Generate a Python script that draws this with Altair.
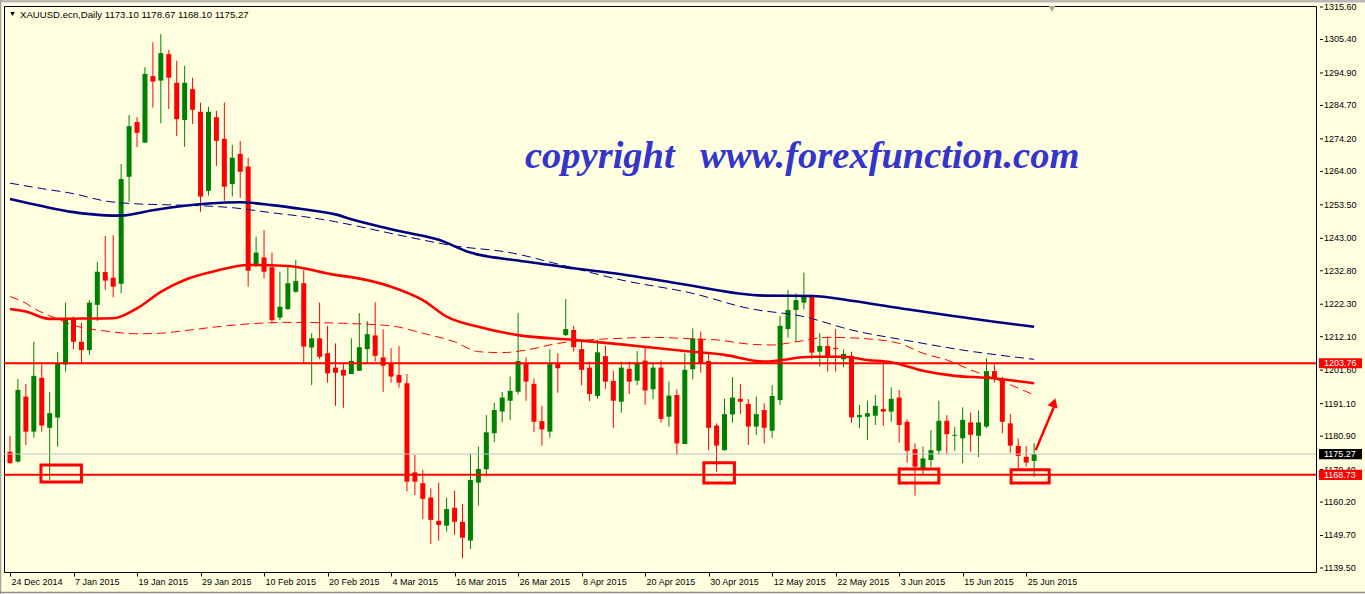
import altair as alt
import pandas as pd

# ---- colours -------------------------------------------------------------
BG = "#FFFFE0"
UP = "#008000"
DOWN = "#FF0000"
NAVY = "#000080"

# ---- daily XAUUSD candles (bar index 0 = 24 Dec 2014) ---------------------
opens = [1176.0, 1172.9, 1193.3, 1182.3, 1199.2, 1183.5, 1186.7, 1203.4, 1217.9, 1210.5,
         1207.9, 1222.1, 1232.4, 1230.6, 1228.7, 1262.3, 1279.5, 1273.0, 1293.9, 1292.5,
         1300.8, 1291.8, 1280.1, 1289.8, 1282.7, 1257.9, 1281.0, 1274.2, 1260.0, 1269.5,
         1265.5, 1234.9, 1237.0, 1233.9, 1218.1, 1220.8, 1226.2, 1228.9, 1208.7, 1211.6,
         1206.9, 1202.4, 1201.7, 1200.4, 1201.4, 1208.2, 1212.5, 1205.6, 1203.8, 1200.1,
         1197.5, 1169.5, 1166.1, 1161.6, 1154.3, 1152.8, 1158.4, 1154.0, 1148.1, 1166.3,
         1170.5, 1181.8, 1188.6, 1192.0, 1194.8, 1203.5, 1197.3, 1185.6, 1182.3, 1203.5,
         1212.6, 1214.2, 1208.2, 1202.4, 1193.5, 1206.0, 1198.2, 1191.7, 1202.0, 1198.3,
         1204.6, 1195.6, 1202.4, 1187.0, 1193.8, 1178.4, 1201.9, 1211.4, 1204.5, 1184.2,
         1176.5, 1187.7, 1192.6, 1191.0, 1183.9, 1189.1, 1182.6, 1192.2, 1214.5, 1220.5,
         1222.8, 1225.2, 1207.4, 1209.2, 1208.6, 1205.0, 1206.1, 1186.8, 1187.0, 1187.3,
         1189.4, 1188.6, 1193.0, 1185.4, 1176.8, 1170.5, 1173.4, 1176.3, 1185.7, 1181.0,
         1180.2, 1185.2, 1181.0, 1183.9, 1201.3, 1199.0, 1184.9, 1177.8, 1174.4, 1173.10]
highs = [1180.9, 1198.8, 1197.3, 1210.5, 1203.4, 1194.7, 1207.3, 1222.8, 1218.4, 1216.5,
         1223.6, 1235.6, 1243.7, 1244.0, 1266.3, 1281.7, 1281.0, 1296.7, 1304.5, 1307.1,
         1302.1, 1298.7, 1297.1, 1293.4, 1285.6, 1284.3, 1283.0, 1285.6, 1272.3, 1273.5,
         1268.3, 1243.5, 1245.6, 1238.5, 1232.5, 1234.6, 1236.2, 1233.0, 1213.2, 1222.8,
         1215.5, 1210.0, 1203.9, 1211.6, 1219.5, 1217.0, 1222.9, 1214.4, 1208.5, 1209.2,
         1200.4, 1175.0, 1170.3, 1164.5, 1166.3, 1161.6, 1163.8, 1159.6, 1175.3, 1177.6,
         1187.5, 1191.4, 1194.8, 1199.6, 1219.6, 1205.6, 1199.0, 1190.4, 1208.2, 1206.9,
         1223.9, 1215.5, 1211.1, 1204.3, 1211.1, 1209.2, 1201.4, 1204.3, 1204.3, 1207.6,
         1209.2, 1203.8, 1204.6, 1198.0, 1195.6, 1206.9, 1214.7, 1213.7, 1206.7, 1184.9,
         1192.6, 1199.4, 1197.3, 1192.5, 1193.3, 1191.2, 1196.9, 1218.6, 1226.8, 1225.7,
         1232.2, 1225.4, 1213.2, 1212.1, 1214.5, 1208.1, 1207.4, 1190.7, 1192.0, 1193.8,
         1203.8, 1196.2, 1195.4, 1186.2, 1178.6, 1177.6, 1182.8, 1192.0, 1187.5, 1183.8,
         1189.9, 1188.3, 1188.9, 1205.3, 1203.4, 1199.5, 1187.8, 1180.2, 1177.8, 1178.67]
lows = [1172.3, 1172.6, 1178.1, 1180.4, 1182.3, 1167.1, 1177.6, 1201.1, 1208.2, 1203.5,
        1206.4, 1217.0, 1226.8, 1224.5, 1225.7, 1254.5, 1271.6, 1273.0, 1284.0, 1279.1,
        1283.6, 1275.1, 1271.7, 1278.9, 1251.3, 1256.4, 1265.7, 1254.8, 1256.1, 1255.7,
        1227.8, 1233.9, 1230.4, 1216.3, 1217.3, 1220.5, 1225.9, 1203.8, 1196.9, 1205.0,
        1197.7, 1190.4, 1189.8, 1200.4, 1201.4, 1203.9, 1204.3, 1194.8, 1197.7, 1196.1,
        1163.5, 1162.4, 1154.9, 1147.0, 1148.1, 1150.9, 1149.9, 1142.5, 1145.5, 1159.1,
        1168.2, 1179.0, 1185.2, 1186.0, 1194.0, 1192.0, 1182.1, 1177.9, 1180.4, 1194.5,
        1212.3, 1207.4, 1196.9, 1191.9, 1192.6, 1195.7, 1183.5, 1188.2, 1194.1, 1196.9,
        1190.7, 1192.5, 1185.1, 1183.9, 1175.0, 1178.4, 1198.7, 1200.8, 1176.5, 1169.7,
        1176.3, 1185.1, 1187.8, 1178.1, 1181.3, 1178.6, 1180.4, 1190.7, 1211.8, 1210.5,
        1220.7, 1205.1, 1202.7, 1201.1, 1201.1, 1202.5, 1185.1, 1183.4, 1179.7, 1184.4,
        1184.1, 1185.4, 1178.8, 1172.6, 1162.2, 1169.0, 1171.3, 1175.0, 1175.3, 1176.3,
        1172.4, 1176.0, 1174.3, 1183.4, 1197.7, 1181.8, 1175.7, 1170.3, 1171.3, 1168.10]
closes = [1172.4, 1195.4, 1182.3, 1199.8, 1184.2, 1188.1, 1203.8, 1217.9, 1210.5, 1207.9,
          1222.8, 1232.5, 1229.7, 1227.8, 1261.6, 1278.2, 1276.1, 1294.6, 1292.2, 1301.1,
          1293.4, 1280.4, 1291.8, 1283.3, 1256.1, 1282.7, 1273.6, 1259.2, 1268.3, 1263.9,
          1232.8, 1238.5, 1232.5, 1217.3, 1221.5, 1228.9, 1229.6, 1209.0, 1211.6, 1205.8,
          1200.6, 1200.8, 1199.9, 1204.5, 1208.8, 1212.9, 1206.1, 1203.0, 1199.6, 1197.7,
          1166.6, 1166.6, 1161.2, 1154.6, 1153.0, 1158.0, 1154.0, 1149.0, 1167.1, 1170.6,
          1182.1, 1189.1, 1193.0, 1195.1, 1204.5, 1198.0, 1185.4, 1183.0, 1203.5, 1202.2,
          1214.5, 1208.8, 1201.7, 1194.1, 1207.2, 1198.0, 1192.0, 1202.4, 1198.0, 1203.9,
          1195.2, 1202.4, 1186.3, 1193.6, 1178.6, 1201.7, 1211.6, 1203.8, 1183.5, 1177.9,
          1187.8, 1193.0, 1191.7, 1183.9, 1187.8, 1183.5, 1193.5, 1215.5, 1220.5, 1223.6,
          1224.9, 1207.1, 1209.2, 1205.8, 1208.2, 1206.7, 1186.8, 1187.5, 1188.1, 1190.4,
          1188.6, 1192.6, 1184.4, 1176.3, 1171.3, 1173.9, 1176.5, 1185.7, 1181.5, 1181.3,
          1186.0, 1181.3, 1185.2, 1201.3, 1199.0, 1185.4, 1177.9, 1174.7, 1172.6, 1175.27]

# ---- moving averages (bar index, value) ----------------------------------
ma_blue_idx = [0, 4, 8, 12, 14, 18, 22, 25, 29, 33, 37, 41, 43, 49, 54, 58, 64, 71, 77,
               84, 95, 101, 106, 113, 120, 124, 129]
ma_blue_val = [1255.3, 1253.1, 1251.2, 1250.2, 1250.1, 1251.8, 1253.2, 1253.9, 1254.3,
               1253.4, 1252.1, 1250.5, 1249.0, 1245.3, 1242.5, 1238.5, 1236.0, 1233.6,
               1231.7, 1228.9, 1225.0, 1224.9, 1223.4, 1220.7, 1218.2, 1216.8, 1215.2]

ma_blue_d_idx = [0, 4, 8, 12, 16, 20, 24, 28, 33, 37, 41, 43, 49, 56, 63, 69, 77, 86,
                 93, 100, 106, 113, 120, 129]
ma_blue_d_val = [1260.3, 1258.6, 1257.0, 1254.7, 1253.8, 1253.5, 1253.2, 1252.6, 1251.0,
                 1249.8, 1248.2, 1247.2, 1244.0, 1240.6, 1238.5, 1234.9, 1229.9, 1225.7,
                 1221.0, 1218.4, 1214.2, 1210.9, 1207.9, 1205.0]

ma_red_idx = [0, 2, 5, 9, 13, 16, 19, 22, 26, 30, 35, 41, 43, 48, 52, 55, 59, 64, 71,
              77, 85, 90, 95, 101, 105, 108, 111, 115, 119, 123, 129]
ma_red_val = [1220.8, 1220.0, 1217.7, 1217.8, 1217.9, 1221.0, 1226.2, 1229.9, 1232.8,
              1234.6, 1234.3, 1231.5, 1230.8, 1227.8, 1223.6, 1218.4, 1215.2, 1212.6,
              1211.1, 1209.7, 1207.6, 1206.4, 1204.3, 1205.8, 1205.8, 1204.8, 1204.1,
              1201.4, 1199.8, 1199.2, 1197.5]

ma_red_d_idx = [0, 2, 3, 5, 9, 12, 16, 19, 22, 26, 30, 35, 42, 48, 52, 56, 59, 62, 65,
                69, 73, 77, 81, 86, 89, 93, 96, 99, 103, 107, 112, 115, 118, 121, 124, 129]
ma_red_d_val = [1224.7, 1222.6, 1221.0, 1218.7, 1215.0, 1213.9, 1213.0, 1213.2, 1214.0,
                1215.2, 1216.1, 1216.6, 1216.3, 1215.5, 1213.2, 1210.5, 1207.4, 1207.1,
                1207.9, 1210.0, 1211.1, 1211.6, 1211.9, 1211.4, 1211.1, 1209.8, 1209.5,
                1210.5, 1211.9, 1211.6, 1210.0, 1206.9, 1204.8, 1201.7, 1199.0, 1193.8]

# ---- levels, marked zones, axis labels ------------------------------------
resistance = 1203.76
support = 1168.73
last_price = 1175.27

zone_i0 = [3.9, 87.4, 112.0, 126.1]
zone_i1 = [9.0, 91.25, 117.0, 130.9]
zone_lo = [1166.5, 1166.2, 1166.2, 1166.2]
zone_hi = [1171.85, 1172.5, 1170.6, 1170.3]

arrow_from = (129.2, 1176.5)
arrow_to = (132.0, 1194.0)

date_labels = ["24 Dec 2014", "7 Jan 2015", "19 Jan 2015", "29 Jan 2015", "10 Feb 2015",
               "20 Feb 2015", "4 Mar 2015", "16 Mar 2015", "26 Mar 2015", "8 Apr 2015",
               "20 Apr 2015", "30 Apr 2015", "12 May 2015", "22 May 2015", "3 Jun 2015",
               "15 Jun 2015", "25 Jun 2015"]
date_ticks = [8 * k for k in range(len(date_labels))]
price_ticks = [1315.60, 1305.40, 1294.90, 1284.70, 1274.20, 1264.00, 1253.50, 1243.00,
               1232.80, 1222.30, 1212.10, 1201.60, 1191.10, 1180.90, 1170.40, 1160.20,
               1149.70, 1139.50]

header = "XAUUSD.ecn,Daily  1173.10 1178.67 1168.10 1175.27"
wm_left = "copyright"
wm_right = "www.forexfunction.com"

# ---- geometry of the plot area --------------------------------------------
W, H = 1312, 566
FONT = "Liberation Sans"
AX_SIZE = 9
xs = alt.Scale(domain=[-0.125, 163.875], nice=False, zero=False)
ys = alt.Scale(domain=[1138.24, 1315.91], nice=False, zero=False)


def X(field, **kw):
    return alt.X(field, scale=xs, title=None, **kw)


def Y(field):
    return alt.Y(field, scale=ys, title=None, axis=None)


candles = pd.DataFrame({"i": range(len(opens)), "o": opens, "h": highs,
                        "l": lows, "c": closes})
candles["dir"] = ["up" if c >= o else "down" for o, c in zip(opens, closes)]
col = alt.Color("dir:N", scale=alt.Scale(domain=["up", "down"], range=[UP, DOWN]),
                legend=None)

label_expr = "[" + ",".join("'%s'" % s for s in date_labels) + "][round(datum.value / 8)]"

x_axis = alt.Axis(values=date_ticks, labelExpr=label_expr, labelAlign="left",
                  labelBaseline="top", labelOffset=1, labelPadding=1, tickSize=4,
                  tickColor="black", labelColor="black", labelFont=FONT,
                  labelFontSize=AX_SIZE, labelFlush=False, labelOverlap=False,
                  domain=False, grid=False)

wicks = alt.Chart(candles).mark_rule(strokeWidth=1, clip=True).encode(
    x=X("i:Q", axis=x_axis), y=Y("l:Q"), y2="h:Q", color=col,
)
bodies = alt.Chart(candles).mark_bar(size=5, clip=True).encode(
    x=X("i:Q"), y=Y("o:Q"), y2="c:Q", color=col,
)


def ma_line(idx, val, color, width, dash=None):
    df = pd.DataFrame({"i": idx, "v": val})
    kw = dict(color=color, strokeWidth=width, clip=True, interpolate="monotone")
    if dash:
        kw["strokeDash"] = dash
    return alt.Chart(df).mark_line(**kw).encode(x=X("i:Q"), y=Y("v:Q"))


ma_layers = [
    ma_line(ma_blue_d_idx, ma_blue_d_val, NAVY, 1, [9, 5]),
    ma_line(ma_red_d_idx, ma_red_d_val, DOWN, 1, [9, 5]),
    ma_line(ma_blue_idx, ma_blue_val, NAVY, 2.6),
    ma_line(ma_red_idx, ma_red_val, DOWN, 2.6),
]

# horizontal price levels
last_line = alt.Chart(pd.DataFrame({"p": [last_price]})).mark_rule(
    color="#C0C0C0", strokeWidth=1).encode(y=Y("p:Q"))
levels = alt.Chart(pd.DataFrame({"p": [resistance, support]})).mark_rule(
    color=DOWN, strokeWidth=2).encode(y=Y("p:Q"))

# hollow boxes around the tested lows
zones = alt.Chart(pd.DataFrame({"i0": zone_i0, "i1": zone_i1, "lo": zone_lo,
                                "hi": zone_hi})).mark_rect(
    fillOpacity=0, stroke=DOWN, strokeWidth=3, clip=True).encode(
    x=X("i0:Q"), x2="i1:Q", y=Y("lo:Q"), y2="hi:Q")

# arrow pointing up from the last bar
arrow_df = pd.DataFrame({"i0": [arrow_from[0]], "p0": [arrow_from[1]],
                         "i1": [arrow_to[0] - 0.35], "p1": [arrow_to[1] - 3.0]})
arrow_shaft = alt.Chart(arrow_df).mark_rule(color=DOWN, strokeWidth=2.5).encode(
    x=X("i0:Q"), x2="i1:Q", y=Y("p0:Q"), y2="p1:Q")
arrow_head = alt.Chart(pd.DataFrame({"i": [arrow_to[0] - 0.5], "p": [arrow_to[1] - 2.6]})
                       ).mark_point(shape="triangle-up", filled=True, opacity=1,
                                    color=DOWN, size=110, angle=17).encode(
    x=X("i:Q"), y=Y("p:Q"))

# right-hand price scale: small tick dashes and labels
scale_df = pd.DataFrame({"p": price_ticks})
scale_df["txt"] = scale_df["p"].map(lambda v: "%.2f" % v)
scale_ticks = alt.Chart(scale_df).mark_rule(color="black", strokeWidth=1).encode(
    x=alt.value(W + 4), x2=alt.value(W + 7), y=Y("p:Q"))
scale_labels = alt.Chart(scale_df).mark_text(
    align="left", baseline="middle", color="black", font=FONT, fontSize=AX_SIZE).encode(
    x=alt.value(W + 8), y=Y("p:Q"), text="txt:N")

# price tags on the right-hand scale
tags = pd.DataFrame({"p": [resistance, last_price, support],
                     "fill": [DOWN, "#000000", DOWN]})
tags["txt"] = tags["p"].map(lambda v: "%.2f" % v)
tag_boxes = alt.Chart(tags).transform_calculate(
    lo="datum.p - 1.6", hi="datum.p + 1.6").mark_rect().encode(
    x=alt.value(W + 3), x2=alt.value(W + 46),
    y=Y("lo:Q"), y2="hi:Q",
    color=alt.Color("fill:N", scale=None))
tag_text = alt.Chart(tags).mark_text(align="left", baseline="middle", color="white",
                                     font=FONT, fontSize=AX_SIZE).encode(
    x=alt.value(W + 8), y=Y("p:Q"), text="txt:N")

# header, shift marker and watermark
header_mark = alt.Chart(pd.DataFrame({"t": [header]})).mark_text(
    align="left", baseline="middle", font=FONT, fontSize=9.6, color="black").encode(
    x=alt.value(16), y=alt.value(9), text="t:N")
header_tri = alt.Chart(pd.DataFrame({"a": [0]})).mark_point(
    shape="triangle-down", filled=True, opacity=1, color="black", size=20).encode(
    x=alt.value(8.5), y=alt.value(8))
shift_tri = alt.Chart(pd.DataFrame({"a": [0]})).mark_point(
    shape="triangle-down", filled=True, opacity=1, color="#A8A8A8", size=45).encode(
    x=alt.value(1048), y=alt.value(3))
wm_style = dict(align="left", baseline="alphabetic", font="Liberation Serif",
                fontStyle="italic", fontWeight="bold", fontSize=38.5, color="#3535CC")
wm1 = alt.Chart(pd.DataFrame({"t": [wm_left]})).mark_text(**wm_style).encode(
    x=alt.value(521), y=alt.value(162), text="t:N")
wm2 = alt.Chart(pd.DataFrame({"t": [wm_right]})).mark_text(**wm_style).encode(
    x=alt.value(696), y=alt.value(162), text="t:N")

# window edges around the chart
frame_top = alt.Chart(pd.DataFrame({"a": [0]})).mark_rule(
    color="#B8B8B8", strokeWidth=3).encode(
    x=alt.value(-4), x2=alt.value(W + 49), y=alt.value(-5))
frame_left = alt.Chart(pd.DataFrame({"a": [0]})).mark_rule(
    color="#A0A0A0", strokeWidth=1.5).encode(
    x=alt.value(-3.5), y=alt.value(-6), y2=alt.value(H + 22))
frame_bottom = alt.Chart(pd.DataFrame({"a": [0]})).mark_rule(
    color="#909090", strokeWidth=1.5).encode(
    x=alt.value(-4), x2=alt.value(W + 49), y=alt.value(H + 20.5))

chart = alt.layer(
    wicks, bodies, *ma_layers, last_line, levels, zones, arrow_shaft, arrow_head,
    scale_ticks, scale_labels, tag_boxes, tag_text, header_tri, header_mark,
    shift_tri, wm1, wm2, frame_top, frame_left, frame_bottom,
).properties(
    width=W, height=H,
    autosize=alt.AutoSizeParams(type="none"),
    padding={"left": 4, "top": 6, "right": 49, "bottom": 22},
    background=BG,
).configure_view(stroke="black", strokeWidth=1)

chart.save("out.html", embed_options={"renderer": "svg", "actions": False})
